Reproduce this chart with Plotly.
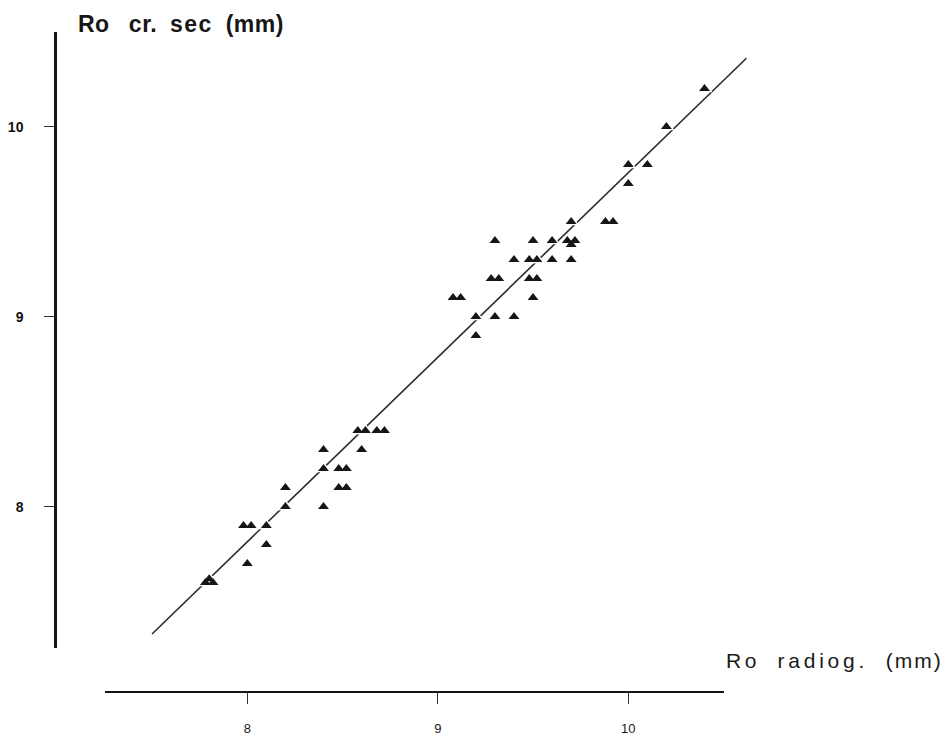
import plotly.graph_objects as go

# ---------------- data ----------------
x_radiog = [7.78, 7.82, 7.80, 8.00, 8.10, 7.98, 8.02, 8.10, 8.20, 8.40,
            8.20, 8.48, 8.52, 8.40, 8.48, 8.52, 8.40, 8.60, 8.58, 8.62,
            8.68, 8.72,
            9.20, 9.20, 9.30, 9.40, 9.08, 9.12, 9.50, 9.28, 9.32, 9.48,
            9.52, 9.40, 9.48, 9.52, 9.60, 9.70, 9.30, 9.50, 9.60, 9.68,
            9.72, 9.70, 9.70, 9.88, 9.92, 10.00, 10.00, 10.10, 10.20, 10.40]
y_crsec = [7.60, 7.60, 7.62, 7.70, 7.80, 7.90, 7.90, 7.90, 8.00, 8.00,
           8.10, 8.10, 8.10, 8.20, 8.20, 8.20, 8.30, 8.30, 8.40, 8.40,
           8.40, 8.40,
           8.90, 9.00, 9.00, 9.00, 9.10, 9.10, 9.10, 9.20, 9.20, 9.20,
           9.20, 9.30, 9.30, 9.30, 9.30, 9.30, 9.40, 9.40, 9.40, 9.40,
           9.40, 9.38, 9.50, 9.50, 9.50, 9.70, 9.80, 9.80, 10.00, 10.20]
reg_x = [7.50, 10.62]
reg_y = [7.33, 10.36]
x_ticks = [8, 9, 10]
y_ticks = [8, 9, 10]
x_title_words = ["Ro", "radiog.", "(mm)"]
y_title_words = ["Ro", "cr.", "sec", "(mm)"]

# ---------------- layout calibration (screen pixels) ----------------
W, H = 949, 736
OFF = 8                      # page offset of the figure (body margin)
PX8, PXU = 247.3, 190.5      # screen x of value 8, pixels per unit
PY8, PYU = 506.7, 190.0      # screen y of value 8, pixels per unit
XA_L, XA_R, XA_Y = 105, 724, 692       # x-axis line extent / position
YA_T, YA_B, YA_X = 31.7, 648.3, 55     # y-axis line extent / position


def fx(p):   # screen x -> paper fraction
    return (p - OFF) / W


def fy(q):   # screen y -> paper fraction
    return 1 - (q - OFF) / H


def xr(p0, p1):
    return [8 + (p0 - PX8) / PXU, 8 + (p1 - PX8) / PXU]


def yr(q_bottom, q_top):
    return [8 - (q_bottom - PY8) / PYU, 8 - (q_top - PY8) / PYU]


def spaced(words, spacings, gaps):
    parts = []
    for i, (w, s) in enumerate(zip(words, spacings)):
        parts.append('<span style="letter-spacing:%spx">%s</span>' % (s, w))
        if i < len(words) - 1:
            parts.append(" " * gaps[i])
    return "".join(parts)


INK = "#161616"
FONT = "Liberation Sans, Arial, sans-serif"

fig = go.Figure()
# visible axes subplot (holds an empty trace so it is created)
fig.add_trace(go.Scatter(x=[], y=[], xaxis="x", yaxis="y", showlegend=False))
# whole-page subplot with the same scale, for the data
fig.add_trace(go.Scatter(x=reg_x, y=reg_y, mode="lines", xaxis="x2", yaxis="y2",
                         line=dict(color="#2b2b2b", width=1.6),
                         showlegend=False, hoverinfo="skip"))
fig.add_trace(go.Scatter(x=x_radiog, y=y_crsec, mode="markers", xaxis="x2", yaxis="y2",
                         marker=dict(symbol="triangle-up", size=14, color="white",
                                     line=dict(width=0)),
                         showlegend=False, hoverinfo="skip"))
fig.add_trace(go.Scatter(x=x_radiog, y=y_crsec, mode="markers", xaxis="x2", yaxis="y2",
                         marker=dict(symbol="triangle-up", size=9.5, color=INK,
                                     line=dict(width=0)),
                         showlegend=False))

fig.update_layout(
    width=W, height=H,
    margin=dict(l=0, r=0, t=0, b=0),
    paper_bgcolor="white", plot_bgcolor="rgba(0,0,0,0)",
    font=dict(family=FONT, color=INK),
    xaxis=dict(domain=[fx(XA_L), fx(XA_R)], range=xr(XA_L, XA_R),
               anchor="free", position=fy(XA_Y),
               showline=True, linecolor=INK, linewidth=2,
               ticks="outside", ticklen=11, tickwidth=1.2, tickcolor="#333",
               tickvals=x_ticks, ticktext=[str(v) for v in x_ticks],
               tickfont=dict(size=13, family=FONT, color="#1a1a1a"),
               ticklabelstandoff=13,
               showgrid=False, zeroline=False),
    yaxis=dict(domain=[fy(YA_B), fy(YA_T)], range=yr(YA_B, YA_T),
               anchor="free", position=fx(YA_X),
               showline=True, linecolor=INK, linewidth=2.5,
               ticks="outside", ticklen=10, tickwidth=1.2, tickcolor="#333",
               tickvals=y_ticks, ticktext=[str(v) for v in y_ticks],
               tickfont=dict(size=14, family=FONT, color="#111", weight="bold"),
               ticklabelstandoff=18,
               showgrid=False, zeroline=False),
    xaxis2=dict(domain=[0, 1], range=xr(OFF, W + OFF), anchor="y2", visible=False),
    yaxis2=dict(domain=[0, 1], range=yr(H + OFF, OFF), anchor="x2", visible=False),
    annotations=[
        dict(text=spaced(y_title_words, [0.5, 0.5, 1.5, 0.5], [3, 2, 2]),
             xref="paper", yref="paper", x=fx(76), y=fy(24),
             xanchor="left", yanchor="middle", showarrow=False,
             font=dict(size=23, family=FONT, color=INK, weight="bold")),
        dict(text=spaced(x_title_words, [3.5, 3.8, 2], [3, 3]),
             xref="paper", yref="paper", x=fx(724), y=fy(660),
             xanchor="left", yanchor="middle", showarrow=False,
             font=dict(size=21, family=FONT, color="#1a1a1a")),
    ],
)

fig.write_html("out.html")
